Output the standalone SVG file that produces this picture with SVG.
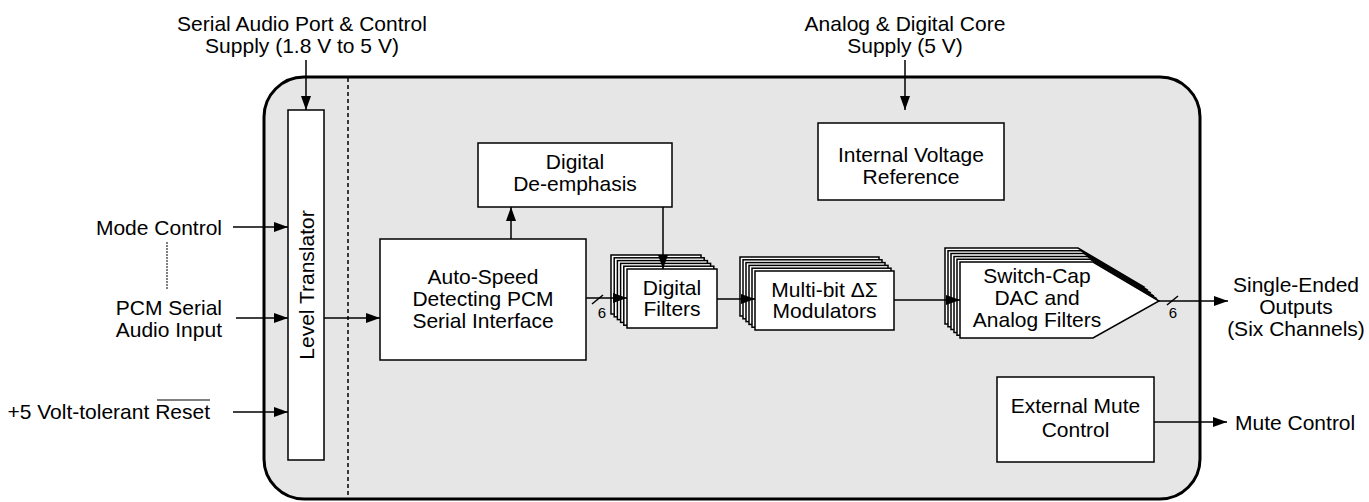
<svg xmlns="http://www.w3.org/2000/svg" width="1369" height="502" viewBox="0 0 1369 502">
<style>
.box{fill:#fff;stroke:#000;stroke-width:1.5}
.t{font-family:"Liberation Sans",Arial,Helvetica,sans-serif;font-size:21px;fill:#000;text-anchor:middle}
.e{text-anchor:end}
.s{font-size:15px}
.c{stroke:#000;stroke-width:1.5;fill:none}
.a{marker-end:url(#arr)}
</style>
<defs>
<marker id="arr" markerUnits="userSpaceOnUse" markerWidth="15" markerHeight="11" refX="14" refY="5" orient="auto">
<path d="M0,0 L14,5 L0,10 z" fill="#000"/>
</marker>
<rect id="fr" width="90" height="59" class="box"/>
<rect id="mr" width="139" height="59" class="box"/>
<path id="sp" d="M0,0 H133 L199,39 L133,76 H0 Z" class="box"/>
</defs>

<g id="chip">
<rect x="264" y="77" width="936" height="422" rx="40" ry="40" fill="#e6e6e6" stroke="#000" stroke-width="3"/>
<line x1="348" y1="78" x2="348" y2="498" stroke="#000" stroke-width="1.5" stroke-dasharray="4,3"/>
</g>

<g id="level-translator">
<rect x="288" y="110" width="36" height="350" class="box"/>
<text class="t" transform="translate(314,285) rotate(-90)">Level Translator</text>
</g>

<g id="de-emphasis">
<rect x="478" y="143" width="194" height="64" class="box"/>
<text class="t" x="575" y="169">Digital</text>
<text class="t" x="575" y="191">De-emphasis</text>
</g>

<g id="voltage-ref">
<rect x="818" y="123" width="186" height="77" class="box"/>
<text class="t" x="911" y="162">Internal Voltage</text>
<text class="t" x="911" y="184">Reference</text>
</g>

<g id="auto-speed">
<rect x="380" y="239" width="206" height="121" class="box"/>
<text class="t" x="483" y="284">Auto-Speed</text>
<text class="t" x="483" y="306">Detecting PCM</text>
<text class="t" x="483" y="328">Serial Interface</text>
</g>

<g id="digital-filters">
<use href="#fr" x="611" y="255"/>
<use href="#fr" x="614.2" y="257.8"/>
<use href="#fr" x="617.4" y="260.6"/>
<use href="#fr" x="620.6" y="263.4"/>
<use href="#fr" x="623.8" y="266.2"/>
<use href="#fr" x="627" y="269"/>
<text class="t" x="672" y="295">Digital</text>
<text class="t" x="672" y="316">Filters</text>
</g>

<g id="modulators">
<use href="#mr" x="740" y="257"/>
<use href="#mr" x="743" y="259.8"/>
<use href="#mr" x="746" y="262.6"/>
<use href="#mr" x="749" y="265.4"/>
<use href="#mr" x="752" y="268.2"/>
<use href="#mr" x="755" y="271"/>
<text class="t" x="824.5" y="297">Multi-bit ΔΣ</text>
<text class="t" x="824.5" y="318">Modulators</text>
</g>

<g id="switch-cap">
<use href="#sp" x="945" y="248"/>
<use href="#sp" x="948" y="250.8"/>
<use href="#sp" x="951" y="253.6"/>
<use href="#sp" x="954" y="256.4"/>
<use href="#sp" x="957" y="259.2"/>
<use href="#sp" x="960" y="262"/>
<text class="t" x="1037" y="283">Switch-Cap</text>
<text class="t" x="1037" y="305">DAC and</text>
<text class="t" x="1037" y="327">Analog Filters</text>
</g>

<g id="external-mute">
<rect x="997" y="377" width="157" height="85" class="box"/>
<text class="t" x="1075.5" y="413">External Mute</text>
<text class="t" x="1075.5" y="437">Control</text>
</g>

<g id="labels">
<text class="t" x="302" y="31">Serial Audio Port &amp; Control</text>
<text class="t" x="302" y="53">Supply (1.8 V to 5 V)</text>
<text class="t" x="905" y="31">Analog &amp; Digital Core</text>
<text class="t" x="905" y="53">Supply (5 V)</text>
<text class="t e" x="222" y="235">Mode Control</text>
<text class="t e" x="222" y="315">PCM Serial</text>
<text class="t e" x="222" y="337">Audio Input</text>
<text class="t e" x="210" y="419">+5 Volt-tolerant Reset</text>
<line x1="157" y1="400" x2="210" y2="400" stroke="#000" stroke-width="1.2"/>
<text class="t" x="1296" y="292">Single-Ended</text>
<text class="t" x="1296" y="314">Outputs</text>
<text class="t" x="1296" y="336">(Six Channels)</text>
<text class="t" x="1235" y="430" style="text-anchor:start">Mute Control</text>
<text class="t s" x="602" y="318">6</text>
<text class="t s" x="1173" y="318">6</text>
</g>

<g id="connectors">
<line class="c a" x1="306" y1="60" x2="306" y2="110"/>
<line class="c a" x1="905" y1="60" x2="905" y2="110"/>
<line class="c a" x1="233" y1="227" x2="288" y2="227"/>
<line class="c a" x1="236" y1="318" x2="288" y2="318"/>
<line class="c a" x1="233" y1="412" x2="288" y2="412"/>
<line x1="167" y1="242" x2="167" y2="290" stroke="#000" stroke-width="1" stroke-dasharray="2,1"/>
<line class="c a" x1="324" y1="318" x2="380" y2="318"/>
<line class="c a" x1="511" y1="239" x2="511" y2="207"/>
<line class="c a" x1="663" y1="207" x2="663" y2="269"/>
<line class="c a" x1="586" y1="298" x2="627" y2="298"/>
<line class="c" x1="592" y1="304" x2="603" y2="295"/>
<line class="c a" x1="717" y1="299" x2="755" y2="299"/>
<line class="c a" x1="894" y1="300" x2="960" y2="300"/>
<line class="c a" x1="1159" y1="301" x2="1228" y2="301"/>
<line class="c" x1="1167" y1="305" x2="1178" y2="296"/>
<line class="c a" x1="1154" y1="422" x2="1227" y2="422"/>
</g>
</svg>
